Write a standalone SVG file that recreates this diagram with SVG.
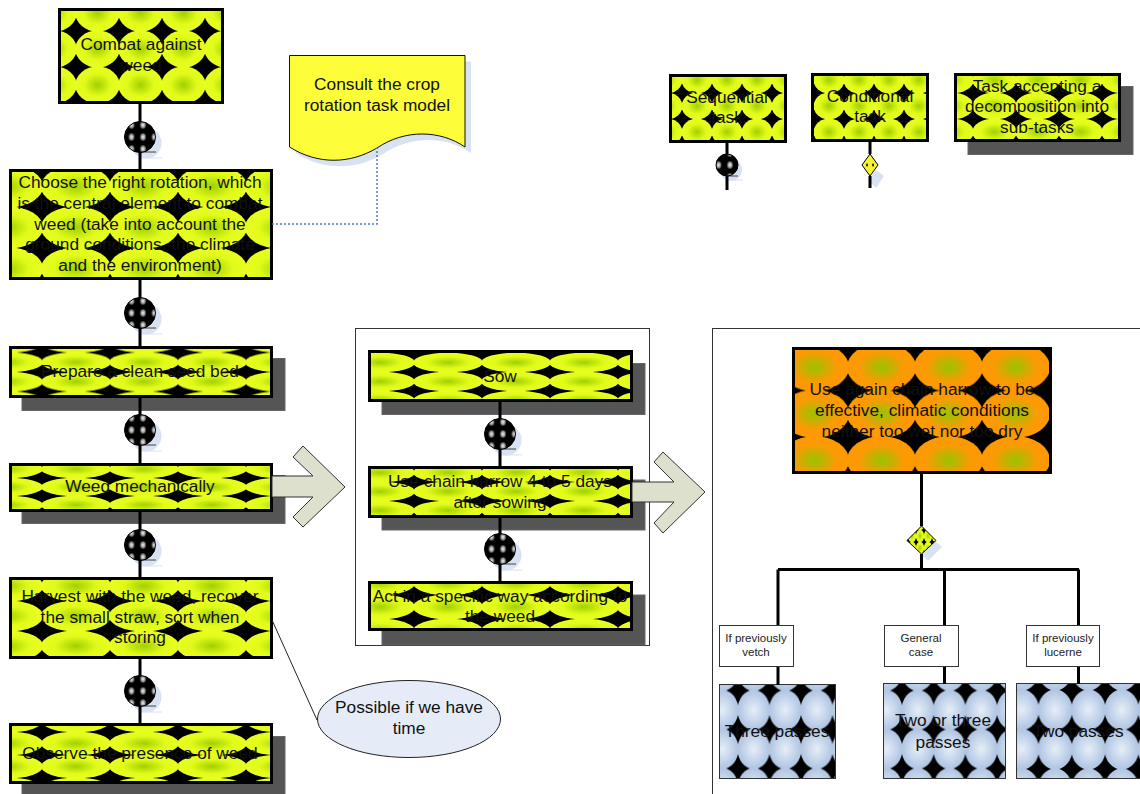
<svg xmlns="http://www.w3.org/2000/svg" width="1140" height="794" viewBox="0 0 1140 794">
<style>
text{font-family:"Liberation Sans",Arial,sans-serif;font-size:17.3px;fill:#111;text-anchor:middle}
.small{font-size:11.5px;fill:#222}
.y{stroke:#000;stroke-width:3}
.o{stroke:#000;stroke-width:3}
.b{stroke:#333;stroke-width:1}
.sh{fill:#555;stroke:#666;stroke-width:1}
.frame{fill:#fff;stroke:#333;stroke-width:1}
.lab{fill:#fff;stroke:#333;stroke-width:1}
.dsh{fill:#d9e2f3}
.ln{fill:none;stroke:#000;stroke-width:3}
.arrow{fill:#dde0cc;stroke:#333;stroke-width:1}
</style>
<defs>
<radialGradient id="gy"><stop offset="0" stop-color="#a2d000"/><stop offset=".6" stop-color="#e0fa1a"/><stop offset="1" stop-color="#e8ff20"/></radialGradient>
<radialGradient id="go"><stop offset="0" stop-color="#98c400"/><stop offset=".65" stop-color="#fb9a04"/><stop offset="1" stop-color="#ff9900"/></radialGradient>
<radialGradient id="gb"><stop offset="0" stop-color="#e6eef8"/><stop offset=".9" stop-color="#b4c8e4"/></radialGradient>
<radialGradient id="gd"><stop offset="0" stop-color="#f2f2f2"/><stop offset=".55" stop-color="#999"/><stop offset="1" stop-color="#000"/></radialGradient>
<pattern id="p1" patternUnits="userSpaceOnUse" x="33" y="-5" width="43" height="36"><rect width="43" height="36" fill="#000"/><ellipse cx="21.5" cy="18" rx="22.15" ry="18.55" fill="url(#gy)"/></pattern>
<pattern id="p2" patternUnits="userSpaceOnUse" x="42" y="166" width="68" height="41"><rect width="68" height="41" fill="#000"/><ellipse cx="34" cy="20.5" rx="35" ry="21.1" fill="url(#gy)"/></pattern>
<pattern id="p3" patternUnits="userSpaceOnUse" x="42" y="352.5" width="68" height="19.5"><rect width="68" height="19.5" fill="#000"/><ellipse cx="34" cy="9.75" rx="35" ry="10.05" fill="url(#gy)"/></pattern>
<pattern id="p4" patternUnits="userSpaceOnUse" x="42" y="478" width="68" height="18"><rect width="68" height="18" fill="#000"/><ellipse cx="34" cy="9" rx="35" ry="9.3" fill="url(#gy)"/></pattern>
<pattern id="p5" patternUnits="userSpaceOnUse" x="42" y="601" width="68" height="30"><rect width="68" height="30" fill="#000"/><ellipse cx="34" cy="15" rx="35" ry="15.45" fill="url(#gy)"/></pattern>
<pattern id="p6" patternUnits="userSpaceOnUse" x="42" y="732" width="68" height="23"><rect width="68" height="23" fill="#000"/><ellipse cx="34" cy="11.5" rx="35" ry="11.85" fill="url(#gy)"/></pattern>
<pattern id="p7" patternUnits="userSpaceOnUse" x="414" y="372" width="68" height="19"><rect width="68" height="19" fill="#000"/><ellipse cx="34" cy="9.5" rx="35" ry="9.8" fill="url(#gy)"/></pattern>
<pattern id="p8" patternUnits="userSpaceOnUse" x="414" y="482" width="68" height="19"><rect width="68" height="19" fill="#000"/><ellipse cx="34" cy="9.5" rx="35" ry="9.8" fill="url(#gy)"/></pattern>
<pattern id="p9" patternUnits="userSpaceOnUse" x="414" y="595" width="68" height="24"><rect width="68" height="24" fill="#000"/><ellipse cx="34" cy="12" rx="35" ry="12.4" fill="url(#gy)"/></pattern>
<pattern id="p10" patternUnits="userSpaceOnUse" x="848" y="344" width="67" height="46.5"><rect width="67" height="46.5" fill="#000"/><ellipse cx="33.5" cy="23.25" rx="34.5" ry="24" fill="url(#go)"/></pattern>
<pattern id="p11" patternUnits="userSpaceOnUse" x="682" y="67" width="30" height="26"><rect width="30" height="26" fill="#000"/><ellipse cx="15" cy="13" rx="15.45" ry="13.4" fill="url(#gy)"/></pattern>
<pattern id="p12" patternUnits="userSpaceOnUse" x="844" y="67" width="30" height="26"><rect width="30" height="26" fill="#000"/><ellipse cx="15" cy="13" rx="15.45" ry="13.4" fill="url(#gy)"/></pattern>
<pattern id="p13" patternUnits="userSpaceOnUse" x="973" y="67" width="43" height="26"><rect width="43" height="26" fill="#000"/><ellipse cx="21.5" cy="13" rx="22.15" ry="13.4" fill="url(#gy)"/></pattern>
<pattern id="p14" patternUnits="userSpaceOnUse" x="738" y="690.5" width="31.5" height="39"><rect width="31.5" height="39" fill="#000"/><ellipse cx="15.75" cy="19.5" rx="16.2" ry="20.1" fill="url(#gb)"/></pattern>
<pattern id="p15" patternUnits="userSpaceOnUse" x="902" y="690.5" width="31.7" height="39"><rect width="31.7" height="39" fill="#000"/><ellipse cx="15.85" cy="19.5" rx="16.3" ry="20.1" fill="url(#gb)"/></pattern>
<pattern id="p16" patternUnits="userSpaceOnUse" x="1038.5" y="690" width="33.3" height="39.5"><rect width="33.3" height="39.5" fill="#000"/><ellipse cx="16.65" cy="19.75" rx="17.15" ry="20.35" fill="url(#gb)"/></pattern>
<pattern id="pd" patternUnits="userSpaceOnUse" width="11.5" height="12" x="-2.75" y="-6"><rect width="11.5" height="12" fill="#000"/><ellipse cx="5.75" cy="6" rx="3.5" ry="4.5" fill="url(#gd)"/></pattern>
<pattern id="pq" patternUnits="userSpaceOnUse" width="8" height="12" x="916" y="530"><rect width="8" height="12" fill="#000"/><ellipse cx="4" cy="6" rx="4.1" ry="6.2" fill="url(#gy)"/></pattern>
<g id="dot"><circle cx="6" cy="6" r="15.5" class="dsh"/><path d="M0 21H22" stroke="#d9e2f3" fill="none"/><path d="M0 15H16" stroke="#444" fill="none"/><circle r="15.5" fill="url(#pd)" stroke="#000"/></g>
<g id="dotS"><circle cx="4" cy="5" r="11" class="dsh"/><path d="M0 15H16" stroke="#d9e2f3" fill="none"/><path d="M0 11H11" stroke="#444" fill="none"/><circle r="11" fill="url(#pd)" stroke="#000"/></g>
</defs>
<rect width="1140" height="794" fill="#fff"/>
<g id="frames">
<rect class="frame" x="355.5" y="328.5" width="294" height="317"/>
<rect class="frame" x="712.5" y="328.5" width="500" height="600"/>
</g>
<g id="n-combat"><rect class="y" x="59.5" y="9.5" width="163" height="93" fill="url(#p1)"/><text x="141" y="50">Combat against</text><text x="141" y="71">weed</text></g>
<g id="n-choose"><rect class="y" x="10.5" y="170.5" width="261" height="108" fill="url(#p2)"/><text x="140" y="188">Choose the right rotation, which</text><text x="140" y="209">is the central element to combat</text><text x="140" y="230">weed (take into account the</text><text x="140" y="250">ground conditions, the climate</text><text x="140" y="271">and the environment)</text></g>
<g id="n-prepare"><rect class="sh" x="22" y="358.5" width="263" height="52"/><rect class="y" x="10.5" y="347.5" width="261" height="49" fill="url(#p3)"/><text x="140" y="377">Prepare a clean seed bed</text></g>
<g id="n-weed"><rect class="sh" x="22" y="475.5" width="263" height="48"/><rect class="y" x="10.5" y="464.5" width="261" height="46" fill="url(#p4)"/><text x="140" y="492">Weed mechanically</text></g>
<g id="n-harvest"><rect class="y" x="10.5" y="578.5" width="261" height="79" fill="url(#p5)"/><text x="140" y="602">Harvest with the weed, recover</text><text x="140" y="623">the small straw, sort when</text><text x="140" y="643">storing</text></g>
<g id="n-observe"><rect class="sh" x="22" y="736.5" width="263" height="60"/><rect class="y" x="10.5" y="724.5" width="261" height="58" fill="url(#p6)"/><text x="140" y="759">Observe the presence of weed</text></g>
<g id="n-sow"><rect class="sh" x="382" y="363.5" width="263" height="51"/><rect class="y" x="369.5" y="351.5" width="262" height="49" fill="url(#p7)"/><text x="500" y="382">Sow</text></g>
<g id="n-harrow"><rect class="sh" x="382" y="480" width="263" height="50"/><rect class="y" x="369.5" y="467.5" width="262" height="49" fill="url(#p8)"/><text x="500" y="487">Use chain harrow 4 to 5 days</text><text x="500" y="508">after sowing</text></g>
<g id="n-act"><rect class="sh" x="382" y="595" width="263" height="50"/><rect class="y" x="369.5" y="582.5" width="262" height="47" fill="url(#p9)"/><text x="500" y="602">Act in a specific way according to</text><text x="500" y="622">the weed</text></g>
<g id="n-use"><rect class="o" x="793.5" y="348.5" width="257" height="124" fill="url(#p10)"/><text x="922" y="395">Use again chain harrow to be</text><text x="922" y="416">effective, climatic conditions</text><text x="922" y="437">neither too wet nor too dry</text></g>
<g id="n-three"><rect class="b" x="719.5" y="684.5" width="116" height="94" fill="url(#p14)"/><text x="777" y="737">Three passes</text></g>
<g id="n-twothree"><rect class="b" x="883.5" y="683.5" width="122" height="95" fill="url(#p15)"/><text x="943" y="726">Two or three</text><text x="943" y="748">passes</text></g>
<g id="n-two"><rect class="b" x="1016.5" y="683.5" width="130" height="95" fill="url(#p16)"/><text x="1078" y="737">Two passes</text></g>
<g id="leg-seq"><rect class="y" x="670.5" y="75.5" width="115" height="66" fill="url(#p11)"/><text x="727" y="103">Sequential</text><text x="727" y="123">task</text></g>
<g id="leg-cond"><rect class="y" x="812.5" y="74.5" width="115" height="66" fill="url(#p12)"/><text x="870" y="102">Conditional</text><text x="870" y="122">task</text></g>
<g id="leg-sub"><rect class="sh" x="968" y="86.5" width="165" height="68"/><rect class="y" x="955.5" y="74.5" width="164" height="66" fill="url(#p13)"/><text x="1037" y="92">Task accepting a</text><text x="1037" y="112">decomposition into</text><text x="1037" y="133">sub-tasks</text></g>
<g id="n-doc"><path class="dsh" d="M295.500 61.500H471V153C446 136 411 135 383 154C356 170 324 171 295.500 153Z"/><path d="M289.500 55.500H465V147C440 130 405 129 377 148C350 164 318 165 289.500 147Z" fill="#fdfd3a" stroke="#111"/><text x="377" y="90">Consult the crop</text><text x="377" y="111">rotation task model</text></g>
<g id="n-note"><ellipse cx="409" cy="719" rx="91.500" ry="38.500" fill="#e6ecf7" stroke="#222"/><text x="409" y="713">Possible if we have</text><text x="409" y="734">time</text></g>
<g id="dots">
<use href="#dot" x="140" y="137"/><use href="#dot" x="140" y="313"/><use href="#dot" x="140" y="430"/><use href="#dot" x="140" y="545"/><use href="#dot" x="140" y="691"/>
<use href="#dot" x="500" y="434"/><use href="#dot" x="500" y="549"/><use href="#dotS" x="727" y="165"/>
</g>
<g id="decisions">
<path class="dsh" d="M876 170L884 176L876 188L868 180Z"/>
<path d="M870 154L878 165L870 176L862 165Z" fill="#f4f430" stroke="#000"/><path d="M867 163l1 2l-1 2l-1-2ZM873 163l1 2l-1 2l-1-2Z" fill="#000"/>
<path class="dsh" d="M935 541L942 547L928 561L921 554Z"/>
<path d="M921.500 526L936 540.500L921.500 554L907 540.500Z" fill="url(#pq)" stroke="#000"/>
</g>
<g id="connectors">
<path class="ln" d="M140 103V122M140 152V170M140 278V298M140 328V347M140 397V415M140 445V464M140 511V530M140 560V578M140 657V676M140 706V724"/>
<path class="ln" d="M500 401V419M500 449V467M500 517V534M500 564V582"/>
<path class="ln" d="M727 142V154M727 176V190M870 141V154M870 176V188"/>
<path class="ln" d="M921.500 473V526M921.500 554V569.500M778 569.500H1079M778 569.500V625M944.500 569.500V625M1078.500 569.500V625M778 666V685M944.500 666V684M1078.500 666V684"/>
<path d="M272 224H377V148" fill="none" stroke="#4a7ec4" stroke-width="1.500" stroke-dasharray="2 2"/>
<path d="M272 620L317 720" fill="none" stroke="#222"/>
</g>
<g id="labels">
<g id="lab-vetch"><rect class="lab" x="719.500" y="625.500" width="74" height="41"/><text class="small" x="756" y="642">If previously</text><text class="small" x="756" y="656">vetch</text></g>
<g id="lab-general"><rect class="lab" x="884.500" y="625.500" width="74" height="41"/><text class="small" x="921" y="642">General</text><text class="small" x="921" y="656">case</text></g>
<g id="lab-lucerne"><rect class="lab" x="1026.500" y="625.500" width="73" height="41"/><text class="small" x="1063" y="642">If previously</text><text class="small" x="1063" y="656">lucerne</text></g>
</g>
<g id="arrows">
<path class="arrow" d="M272 476H313L293 457L303 446L345 487L303 527L293 517L313 497H272Z"/>
<path class="arrow" d="M632 482H674L654 462L663 452L705 492L663 533L654 523L674 502H632Z"/>
</g>
</svg>
